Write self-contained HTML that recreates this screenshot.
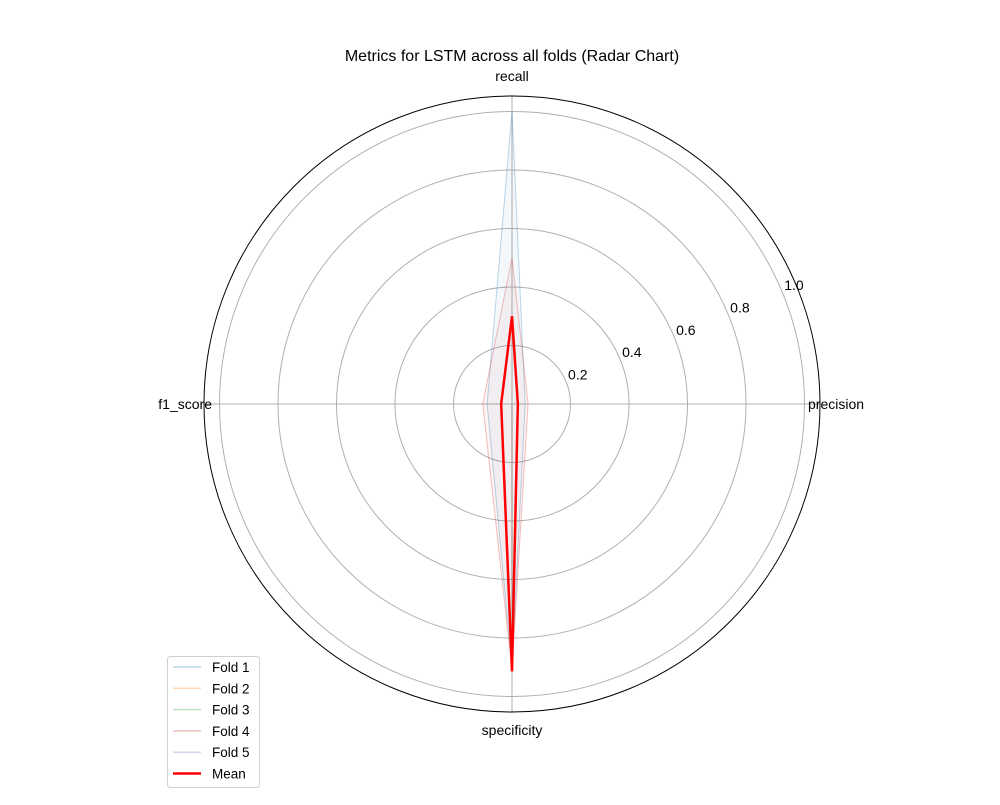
<!DOCTYPE html>
<html><head><meta charset="utf-8">
<style>
body{margin:0;background:#fff;}
svg{font-family:"Liberation Sans","DejaVu Sans",sans-serif;}
</style></head>
<body>
<svg id="chart" width="1000" height="800" viewBox="0 0 1000 800" xmlns="http://www.w3.org/2000/svg">
<rect width="1000" height="800" fill="#fff"/>
<text x="512" y="61" font-size="16" text-anchor="middle">Metrics for LSTM across all folds (Radar Chart)</text>
<g id="grid"></g>
<g id="series"></g>
<g id="legend"></g>
</svg>
<script>
const categories = ["precision","recall","f1_score","specificity"];
const angles = [0, 90, 180, 270];
const foldNames = ["Fold 1","Fold 2","Fold 3","Fold 4","Fold 5"];
const fold1 = [0.045, 1.0, 0.085, 0.90];
const fold2 = [0.0, 0.0, 0.0, 0.92];
const fold3 = [0.0, 0.0, 0.0, 0.92];
const fold4 = [0.055, 0.50, 0.10, 0.91];
const fold5 = [0.0, 0.0, 0.0, 0.92];
const foldColors = ["#1f77b4","#ff7f0e","#2ca02c","#d62728","#9467bd"];
const ticks = [0.2,0.4,0.6,0.8,1.0];
const tickLabels = ["0.2","0.4","0.6","0.8","1.0"];
const folds = [fold1,fold2,fold3,fold4,fold5];
const mean = categories.map((c,i)=>folds.reduce((s,f)=>s+f[i],0)/folds.length);

const cx=512, cy=404, R=308, rmax=1.053;
const NS="http://www.w3.org/2000/svg";
function r(v){return v/rmax*R;}
function pt(v,a){const t=a*Math.PI/180;return [cx+r(v)*Math.cos(t), cy-r(v)*Math.sin(t)];}
function mk(tag,attrs,parent){const e=document.createElementNS(NS,tag);for(const k in attrs)e.setAttribute(k,attrs[k]);parent.appendChild(e);return e;}

const grid=document.getElementById('grid');
ticks.forEach((t,i)=>{
  const c=mk('circle',{cx:cx,cy:cy,r:r(t),fill:'none',stroke:'#b0b0b0','stroke-width':1},grid);
  
  
  const p=pt(t,22.5);
  const tx=mk('text',{x:p[0]+2,y:p[1]-2,'font-size':14},grid);
  tx.textContent=tickLabels[i];
  
  
});
categories.forEach((c,i)=>{
  const p=pt(rmax,angles[i]);
  const l=mk('line',{x1:cx,y1:cy,x2:p[0],y2:p[1],stroke:'#b0b0b0','stroke-width':1},grid);
  
  
  const q=pt(rmax*1.0,angles[i]);
  let x=q[0],y=q[1],anchor='middle';
  if(angles[i]===0){anchor='start';y+=5;x=q[0]-12;}
  if(angles[i]===90){y-=15;}
  if(angles[i]===180){x+=8;anchor='end';y+=5;}
  if(angles[i]===270){y+=23;}
  const t=mk('text',{x:x,y:y,'font-size':14,'text-anchor':anchor},grid);
  t.textContent=c;
  
  
});
const oc=mk('circle',{cx:cx,cy:cy,r:R,fill:'none',stroke:'#000','stroke-width':1},grid);



const series=document.getElementById('series');
function poly(vals){return vals.map((v,i)=>pt(v,angles[i]).join(',')).join(' ');}
folds.forEach((f,k)=>{
  const pf=mk('polygon',{points:poly(f),fill:foldColors[k],'fill-opacity':0.05,stroke:'none'},series);
  
  
  const pl=mk('polygon',{points:poly(f),fill:'none',stroke:foldColors[k],'stroke-opacity':0.3,'stroke-width':1},series);
  
  
});
const mp=mk('polygon',{points:poly(mean),fill:'none',stroke:'#ff0000','stroke-width':2.5,'stroke-linejoin':'miter'},series);



const lg=document.getElementById('legend');
const box=mk('rect',{x:167.5,y:656.5,width:92,height:131,rx:3,fill:'#fff',stroke:'#d0d0d0','stroke-width':1},lg);


const names=foldNames.concat(['Mean']);
names.forEach((n,i)=>{
  const y=667+i*21.3;
  const isMean=i===5;
  const l=mk('line',{x1:173,y1:y,x2:201,y2:y,stroke:isMean?'#ff0000':foldColors[i],'stroke-opacity':isMean?1:0.3,'stroke-width':isMean?2.5:1.5},lg);
  
  
  const t=mk('text',{x:212,y:y+5,'font-size':13.5},lg);
  t.textContent=n;
  
  
});
</script>
</body></html>
